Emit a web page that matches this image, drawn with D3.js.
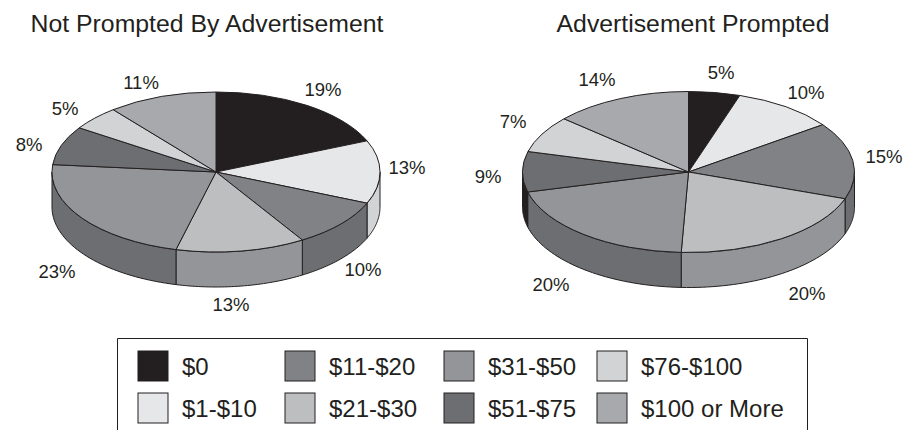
<!DOCTYPE html>
<html>
<head>
<meta charset="utf-8">
<script src="https://cdn.jsdelivr.net/npm/d3@7"></script>
<style>
html, body { margin: 0; padding: 0; background: #fff; }
svg { display: block; }
text { font-family: "Liberation Sans", Arial, sans-serif; fill: #231f20; }
</style>
</head>
<body>
<div id="chart"></div>
<script>
var categories = ["$0", "$1-$10", "$11-$20", "$21-$30", "$31-$50", "$51-$75", "$76-$100", "$100 or More"];
var topColors = ["#231f20", "#e6e7e8", "#808285", "#bcbec0", "#939598", "#6d6e71", "#d1d3d4", "#a7a9ac"];
var wallColors = ["#231f20", "#d1d3d4", "#6d6e71", "#939598", "#6d6e71", "#231f20", "#a7a9ac", "#808285"];

// printed labels
var leftLabels = ["19%", "13%", "10%", "13%", "23%", "8%", "5%", "11%"];
var rightLabels = ["5%", "10%", "15%", "20%", "20%", "9%", "7%", "14%"];
// slice sizes
var leftValues = [19, 13, 10, 13, 23, 8, 5, 11];
var rightValues = [5, 10, 15.4, 20.3, 20.3, 8.1, 7.4, 13.5];

var svg = d3.select("#chart").append("svg").attr("width", 907).attr("height", 430);

var pie = d3.pie().sort(null).value(d => d);

function drawPie(cx, cy, rx, ry, depth, values, labels, labelPos) {
    var slices = pie(values);
    var g = svg.append("g").attr("transform", "translate(" + cx + "," + cy + ")");

    var px = a => rx * Math.sin(a);
    var py = a => -ry * Math.cos(a);

    // wall: only the part of each slice in the front half
    slices.forEach(function(s, i) {
        var a0 = Math.max(s.startAngle, Math.PI / 2);
        var a1 = Math.min(s.endAngle, Math.PI * 1.5);
        if (a1 <= a0) return;
        var steps = d3.range(0, 41).map(k => a0 + (a1 - a0) * k / 40);
        var area = d3.area().x(a => px(a)).y0(a => py(a)).y1(a => py(a) + depth);
        g.append("path")
            .attr("d", area(steps))
            .style("fill", wallColors[i])
            .style("stroke", "#231f20")
            .style("stroke-width", 1);
    });

    var arc = d3.arc().innerRadius(0).outerRadius(rx);
    g.append("g").attr("transform", "scale(1," + (ry / rx) + ")")
        .selectAll("path")
        .data(slices)
        .enter()
        .append("path")
        .attr("d", arc)
        .attr("vector-effect", "non-scaling-stroke")
        .style("fill", (d, i) => topColors[i])
        .style("stroke", "#231f20")
        .style("stroke-width", 1)
        .style("stroke-linejoin", "round");

    svg.selectAll(null)
        .data(labels)
        .enter()
        .append("text")
        .attr("x", (d, i) => labelPos[i][0])
        .attr("y", (d, i) => labelPos[i][1])
        .attr("dy", "0.35em")
        .attr("text-anchor", "middle")
        .style("font-size", "18.5px")
        .text(d => d);
}

drawPie(216, 172, 164, 80, 35, leftValues, leftLabels,
    [[323, 90], [407, 168], [363, 270], [231, 305], [57, 272], [29, 145], [65, 109], [141, 83]]);
drawPie(688.5, 172, 166, 80.5, 35, rightValues, rightLabels,
    [[721, 73], [806, 93], [884, 157], [807, 294], [551, 285], [488, 177], [513, 122], [597, 80]]);

svg.append("text").attr("x", 207).attr("y", 32).attr("text-anchor", "middle").style("font-size", "24.8px").text("Not Prompted By Advertisement");
svg.append("text").attr("x", 693).attr("y", 32).attr("text-anchor", "middle").style("font-size", "24.8px").text("Advertisement Prompted");

// legend, two rows of four columns
var legendX = d3.scaleOrdinal().domain([0, 1, 2, 3]).range([138, 285, 444, 597]);
var legendY = d3.scaleOrdinal().domain([0, 1]).range([351, 393]);

// box runs off the bottom of the picture
svg.append("path")
    .attr("d", "M117.5,430V338.5H807.5V430")
    .style("fill", "none")
    .style("stroke", "#231f20");

var legend = svg.selectAll(".item")
    .data(categories)
    .enter()
    .append("g")
    .attr("class", "item")
    .attr("transform", (d, i) => "translate(" + legendX(Math.floor(i / 2)) + "," + legendY(i % 2) + ")");

legend.append("rect")
    .attr("width", 30).attr("height", 30)
    .style("fill", (d, i) => topColors[i])
    .style("stroke", "#231f20");

legend.append("text")
    .attr("x", 44).attr("y", 16).attr("dy", "0.35em")
    .style("font-size", "24px")
    .text(d => d);
</script>
</body>
</html>
